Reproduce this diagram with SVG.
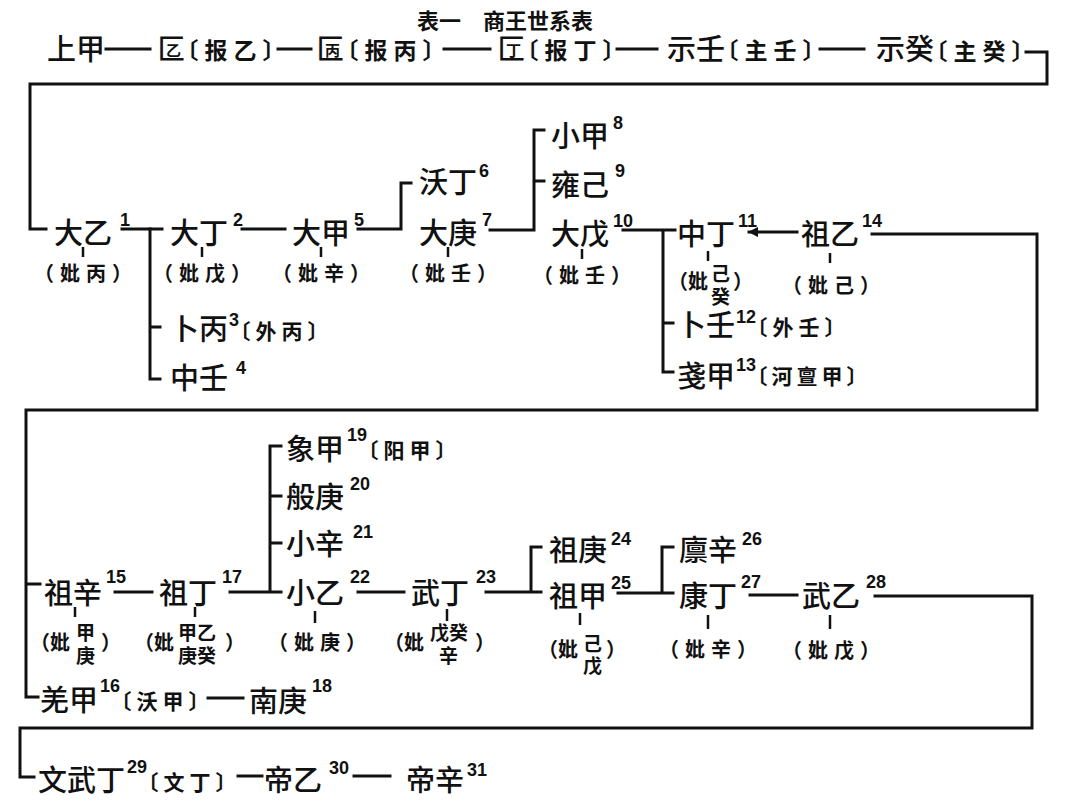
<svg xmlns="http://www.w3.org/2000/svg" width="1080" height="803" viewBox="0 0 1080 803">
<style>
text{font-family:"Noto Sans CJK SC","Noto Sans CJK TC",sans-serif;fill:#111}
.k{font-size:29px;font-weight:500}
.b0{font-size:23px;font-weight:bold;letter-spacing:6px;font-feature-settings:"halt"}
.b{font-size:21px;font-weight:bold;letter-spacing:5px;font-feature-settings:"halt"}
.b3{font-size:21px;font-weight:bold;letter-spacing:4px;font-feature-settings:"halt"}
.c{font-size:20px;font-weight:bold;letter-spacing:6px;font-feature-settings:"halt"}
.cp{font-size:20px;font-weight:bold}
.cs{font-size:19px;font-weight:bold}
.in{font-size:15px;font-weight:bold}
.n{font-family:"Liberation Sans",Arial,sans-serif;font-size:18px;font-weight:bold;letter-spacing:0}
.ti{font-size:22px;font-weight:bold}
.ln{stroke:#111;stroke-width:3;fill:none;stroke-linecap:square}
.tk{stroke:#111;stroke-width:2.5;fill:none}
</style>
<defs>
<marker id="ah" viewBox="0 0 10 10" refX="9" refY="5" markerWidth="3.5" markerHeight="3.5" orient="auto">
<path d="M0,0 L10,5 L0,10 z" fill="#111"/>
</marker>
</defs>
<rect width="1080" height="803" fill="#fff"/>

<g id="title"><text class="ti" x="417" y="29">表一　商王世系表</text></g>

<g id="connectors">
<path class="ln" d="M106,49 H150"/>
<path class="ln" d="M278,49 H311"/>
<path class="ln" d="M444,49 H490"/>
<path class="ln" d="M617,49 H657"/>
<path class="ln" d="M820,49 H864"/>
<path class="ln" d="M1026,52 H1047 V84 H30 V229 H46"/>
<path class="ln" d="M122,229 H162"/>
<path class="ln" d="M150,229 V379 H160 M150,327 H160"/>
<path class="ln" d="M242,229 H285"/>
<path class="ln" d="M358,229 H401 V183 H411"/>
<path class="ln" d="M490,230 H534 V130 H544 M534,181 H544"/>
<path class="ln" d="M623,230 H675 M663,230 V372 H673 M663,323 H673"/>
<path class="ln" d="M797,232 H749" marker-end="url(#ah)"/>
<path class="ln" d="M872,234 H1037 V410 H26 V697 H38 M26,584 H40"/>
<path class="ln" d="M115,592 H152"/>
<path class="ln" d="M230,592 H270 V446 H281 M270,496 H281 M270,543 H281 M270,592 H281"/>
<path class="ln" d="M358,592 H404"/>
<path class="ln" d="M486,592 H541 M531,592 V547 H541"/>
<path class="ln" d="M618,593 H673 M662,593 V547 H673"/>
<path class="ln" d="M750,595 H797"/>
<path class="ln" d="M875,596 H1032 V728 H20 V777 H34"/>
<path class="ln" d="M208,698 H243"/>
<path class="ln" d="M238,776 H262"/>
<path class="ln" d="M354,776 H390"/>
<path class="tk" d="M83,247 V257 M202,247 V257 M321,247 V257 M448,247 V257 M582,249 V259 M708,251 V261 M830,253 V263"/>
<path class="tk" d="M75,607 V617 M195,607 V617 M315,611 V623 M447,609 V621 M580,613 V625 M708,615 V629 M830,615 V629"/>
</g>

<g id="shangjia"><text class="k" x="47" y="60">上甲</text></g>
<g id="baoyi"><text class="k" x="157" y="60">匚<tspan class="in" x="166" y="56">乙</tspan><tspan class="b0" x="187" y="59">〔报乙〕</tspan></text></g>
<g id="baobing"><text class="k" x="316" y="60">匚<tspan class="in" x="325" y="56">丙</tspan><tspan class="b0" x="347" y="59">〔报丙〕</tspan></text></g>
<g id="baoding"><text class="k" x="497" y="60">匚<tspan class="in" x="506" y="56">丁</tspan><tspan class="b0" x="527" y="59">〔报丁〕</tspan></text></g>
<g id="shiren"><text class="k" x="667" y="60">示壬<tspan class="b0" x="727" y="59">〔主壬〕</tspan></text></g>
<g id="shigui"><text class="k" x="876" y="60">示癸<tspan class="b0" x="936" y="60">〔主癸〕</tspan></text></g>

<g id="n1"><text class="k" x="54" y="244">大乙<tspan class="n" x="120" y="226">1</tspan></text><text class="c" x="44" y="281">（妣丙）</text></g>
<g id="n2"><text class="k" x="170" y="244">大丁<tspan class="n" x="233" y="226">2</tspan></text><text class="c" x="163" y="281">（妣戊）</text></g>
<g id="n3"><text class="k" x="170" y="340">卜丙<tspan class="n" x="229" y="326">3</tspan><tspan class="b" x="240" y="339">〔外丙〕</tspan></text></g>
<g id="n4"><text class="k" x="170" y="389">中壬<tspan class="n" x="236" y="374">4</tspan></text></g>
<g id="n5"><text class="k" x="292" y="244">大甲<tspan class="n" x="354" y="226">5</tspan></text><text class="c" x="282" y="281">（妣辛）</text></g>
<g id="n6"><text class="k" x="419" y="193">沃丁<tspan class="n" x="479" y="177">6</tspan></text></g>
<g id="n7"><text class="k" x="419" y="244">大庚<tspan class="n" x="482" y="226">7</tspan></text><text class="c" x="409" y="281">（妣壬）</text></g>
<g id="n8"><text class="k" x="551" y="147">小甲<tspan class="n" x="613" y="129">8</tspan></text></g>
<g id="n9"><text class="k" x="551" y="196">雍己<tspan class="n" x="615" y="177">9</tspan></text></g>
<g id="n10"><text class="k" x="551" y="245">大戊<tspan class="n" x="613" y="227">10</tspan></text><text class="c" x="543" y="283">（妣壬）</text></g>
<g id="n11"><text class="k" x="677" y="245">中丁<tspan class="n" x="738" y="227">11</tspan></text><text class="cp" x="668" y="289">（<tspan x="688" y="289">妣</tspan><tspan class="cs" x="711" y="281">己</tspan><tspan class="cs" x="711" y="304">癸</tspan><tspan x="733" y="289">）</tspan></text></g>
<g id="n12"><text class="k" x="677" y="336">卜壬<tspan class="n" x="736" y="323">12</tspan><tspan class="b" x="757" y="335">〔外壬〕</tspan></text></g>
<g id="n13"><text class="k" x="677" y="387">戔甲<tspan class="n" x="736" y="371">13</tspan><tspan class="b3" x="757" y="384">〔河亶甲〕</tspan></text></g>
<g id="n14"><text class="k" x="801" y="245">祖乙<tspan class="n" x="862" y="227">14</tspan></text><text class="c" x="792" y="293">（妣己）</text></g>

<g id="n15"><text class="k" x="44" y="604">祖辛<tspan class="n" x="106" y="583">15</tspan></text><text class="cp" x="30" y="650">（<tspan x="50" y="650">妣</tspan><tspan class="cs" x="76" y="640">甲</tspan><tspan class="cs" x="76" y="663">庚</tspan><tspan x="101" y="650">）</tspan></text></g>
<g id="n16"><text class="k" x="40" y="711">羌甲<tspan class="n" x="100" y="692">16</tspan><tspan class="b" x="121" y="709">〔沃甲〕</tspan></text></g>
<g id="n17"><text class="k" x="159" y="604">祖丁<tspan class="n" x="222" y="583">17</tspan></text><text class="cp" x="134" y="650">（<tspan x="154" y="650">妣</tspan><tspan class="cs" x="178" y="640">甲乙</tspan><tspan class="cs" x="178" y="663">庚癸</tspan><tspan x="225" y="650">）</tspan></text></g>
<g id="n18"><text class="k" x="249" y="712">南庚<tspan class="n" x="312" y="692">18</tspan></text></g>
<g id="n19"><text class="k" x="286" y="460">象甲<tspan class="n" x="347" y="441">19</tspan><tspan class="b" x="368" y="458">〔阳甲〕</tspan></text></g>
<g id="n20"><text class="k" x="286" y="508">般庚<tspan class="n" x="350" y="490">20</tspan></text></g>
<g id="n21"><text class="k" x="286" y="555">小辛<tspan class="n" x="353" y="538">21</tspan></text></g>
<g id="n22"><text class="k" x="286" y="604">小乙<tspan class="n" x="350" y="583">22</tspan></text><text class="c" x="278" y="650">（妣庚）</text></g>
<g id="n23"><text class="k" x="411" y="604">武丁<tspan class="n" x="476" y="583">23</tspan></text><text class="cp" x="384" y="650">（<tspan x="404" y="650">妣</tspan><tspan class="cs" x="430" y="640">戊癸</tspan><tspan class="cs" x="439" y="663">辛</tspan><tspan x="475" y="650">）</tspan></text></g>
<g id="n24"><text class="k" x="549" y="561">祖庚<tspan class="n" x="611" y="545">24</tspan></text></g>
<g id="n25"><text class="k" x="549" y="607">祖甲<tspan class="n" x="611" y="589">25</tspan></text><text class="cp" x="538" y="657">（<tspan x="558" y="657">妣</tspan><tspan class="cs" x="583" y="651">己</tspan><tspan class="cs" x="583" y="673">戊</tspan><tspan x="606" y="657">）</tspan></text></g>
<g id="n26"><text class="k" x="679" y="561">廪辛<tspan class="n" x="742" y="545">26</tspan></text></g>
<g id="n27"><text class="k" x="679" y="607">康丁<tspan class="n" x="741" y="588">27</tspan></text><text class="c" x="669" y="657">（妣辛）</text></g>
<g id="n28"><text class="k" x="802" y="607">武乙<tspan class="n" x="866" y="588">28</tspan></text><text class="c" x="792" y="658">（妣戊）</text></g>

<g id="n29"><text class="k" x="38" y="791">文武丁<tspan class="n" x="127" y="773">29</tspan><tspan class="b" x="148" y="790">〔文丁〕</tspan></text></g>
<g id="n30"><text class="k" x="264" y="791">帝乙<tspan class="n" x="329" y="774">30</tspan></text></g>
<g id="n31"><text class="k" x="406" y="791">帝辛<tspan class="n" x="467" y="776">31</tspan></text></g>
</svg>
